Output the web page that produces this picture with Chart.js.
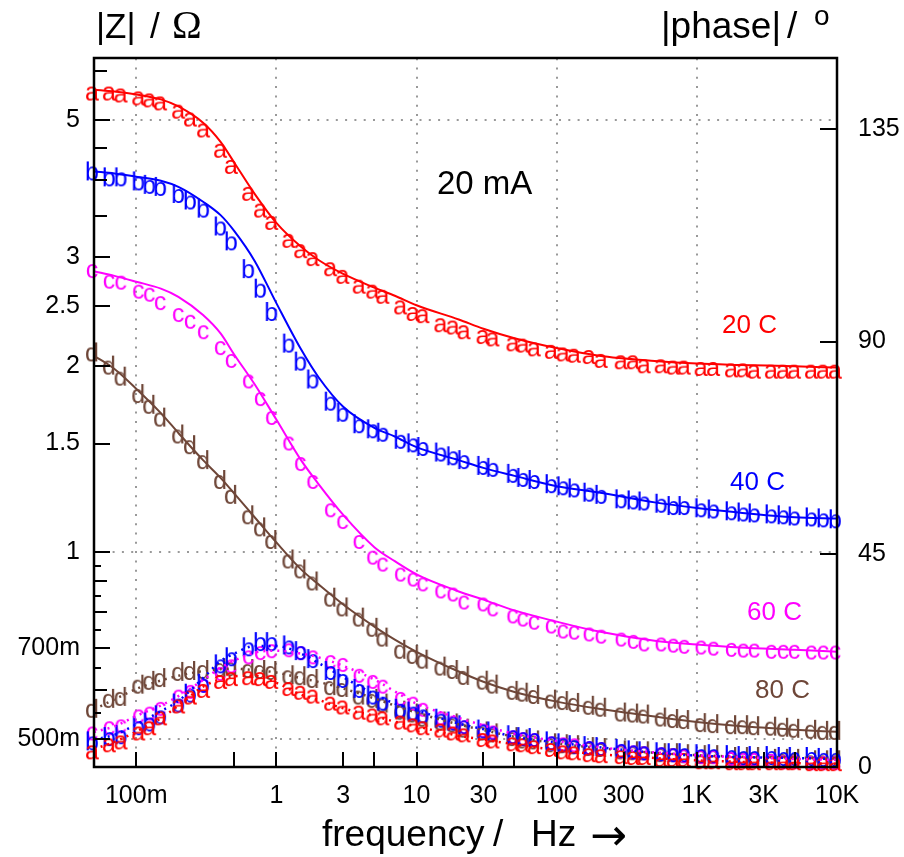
<!DOCTYPE html>
<html>
<head>
<meta charset="utf-8">
<script src="https://cdn.jsdelivr.net/npm/chart.js@4/dist/chart.umd.min.js"></script>
<style>
  html, body { margin: 0; padding: 0; background: #ffffff; }
  canvas { display: block; }
</style>
</head>
<body>
<canvas id="chart" width="904" height="857"></canvas>
<script>
// Measured frequencies (Hz), shared by all four temperature runs
const freq = [0.05, 0.066, 0.08, 0.107, 0.128, 0.153, 0.206, 0.25, 0.31, 0.41,
  0.49, 0.65, 0.79, 0.95, 1.26, 1.53, 1.87, 2.5, 3.06, 4.0,
  5.0, 5.9, 7.9, 9.7, 11.4, 15.3, 18.7, 22.4, 30.6, 36,
  50, 59, 71, 94, 114, 137, 175, 213, 296, 361,
  432, 571, 697, 834, 1100, 1350, 1810, 2200, 2640, 3490,
  4250, 5100, 6740, 8200, 10000];

// Measured |Z| in ohm
const z20 = [5.52, 5.52, 5.48, 5.42, 5.38, 5.32, 5.16, 5.01, 4.81, 4.46,
  4.20, 3.80, 3.57, 3.41, 3.19, 3.07, 2.98, 2.87, 2.79, 2.69,
  2.64, 2.59, 2.49, 2.43, 2.41, 2.33, 2.31, 2.27, 2.23, 2.21,
  2.17, 2.16, 2.13, 2.11, 2.09, 2.08, 2.07, 2.04, 2.03, 2.03,
  2.00, 2.00, 1.99, 1.99, 1.98, 1.98, 1.97, 1.97, 1.96, 1.96,
  1.96, 1.96, 1.96, 1.96, 1.96];
const z40 = [4.10, 4.01, 4.01, 3.95, 3.90, 3.87, 3.77, 3.68, 3.57, 3.34,
  3.16, 2.85, 2.65, 2.43, 2.16, 2.02, 1.89, 1.74, 1.67, 1.60,
  1.57, 1.55, 1.51, 1.49, 1.47, 1.44, 1.42, 1.40, 1.37, 1.36,
  1.33, 1.31, 1.30, 1.28, 1.27, 1.26, 1.24, 1.23, 1.21, 1.205,
  1.20, 1.19, 1.18, 1.18, 1.17, 1.165, 1.157, 1.152, 1.148, 1.144,
  1.14, 1.135, 1.131, 1.127, 1.123];
const z60 = [2.85, 2.74, 2.73, 2.64, 2.61, 2.53, 2.42, 2.36, 2.27, 2.14,
  2.04, 1.89, 1.77, 1.65, 1.50, 1.39, 1.30, 1.17, 1.12, 1.04,
  0.981, 0.956, 0.921, 0.904, 0.888, 0.865, 0.855, 0.830, 0.824, 0.809,
  0.788, 0.779, 0.770, 0.759, 0.745, 0.742, 0.737, 0.731, 0.723, 0.717,
  0.710, 0.710, 0.707, 0.704, 0.702, 0.699, 0.696, 0.694, 0.694, 0.691,
  0.691, 0.691, 0.689, 0.689, 0.689];
const z80 = [2.09, 1.99, 1.91, 1.79, 1.72, 1.64, 1.54, 1.48, 1.40, 1.30,
  1.23, 1.14, 1.09, 1.04, 0.967, 0.932, 0.891, 0.839, 0.809, 0.779,
  0.750, 0.723, 0.691, 0.678, 0.666, 0.649, 0.641, 0.627, 0.616, 0.607,
  0.593, 0.589, 0.584, 0.574, 0.571, 0.567, 0.561, 0.557, 0.547, 0.545,
  0.543, 0.537, 0.534, 0.532, 0.526, 0.524, 0.522, 0.522, 0.520, 0.519,
  0.517, 0.515, 0.513, 0.511, 0.511];

// Measured |phase| in degrees
const p20 = [3.1, 4.6, 5.2, 7.1, 8.2, 10.3, 12.8, 14.7, 16.1, 18.0,
  18.6, 18.8, 18.6, 18.0, 16.5, 15.7, 14.9, 13.4, 12.6, 11.5,
  10.9, 10.3, 9.4, 8.8, 8.2, 7.7, 7.1, 6.7, 5.7, 5.4,
  4.8, 4.6, 4.2, 3.6, 3.1, 2.9, 2.5, 2.3, 2.1, 1.9,
  1.9, 1.5, 1.5, 1.5, 1.0, 1.0, 0.8, 0.8, 0.8, 0.8,
  0.8, 0.8, 0.6, 0.6, 0.6];
const p40 = [5.0, 5.9, 6.3, 8.2, 9.0, 10.5, 13.0, 15.1, 17.2, 21.3,
  22.8, 24.9, 26.0, 26.0, 25.3, 24.1, 22.4, 19.9, 18.2, 16.1,
  14.7, 13.4, 11.9, 11.3, 10.7, 9.8, 9.2, 8.4, 7.5, 7.1,
  6.3, 5.9, 5.7, 5.0, 4.6, 4.2, 4.0, 3.8, 3.4, 3.1,
  2.9, 2.7, 2.5, 2.5, 2.3, 2.3, 2.1, 1.9, 1.9, 1.9,
  1.7, 1.7, 1.7, 1.5, 1.5];
const p60 = [7.1, 8.2, 8.6, 10.7, 11.3, 12.3, 14.9, 15.9, 17.2, 19.7,
  21.3, 23.2, 24.1, 24.5, 24.7, 24.1, 23.2, 22.2, 21.6, 19.3,
  18.0, 17.0, 14.4, 13.4, 12.1, 10.3, 9.4, 8.4, 7.7, 7.3,
  6.3, 5.9, 5.7, 5.0, 4.8, 4.6, 4.0, 3.8, 3.3, 3.1,
  2.9, 2.7, 2.5, 2.3, 2.1, 2.1, 1.7, 1.5, 1.5, 1.3,
  1.0, 1.0, 0.8, 0.8, 0.8];
const p80 = [11.9, 14.0, 14.4, 17.0, 17.8, 18.4, 19.7, 19.9, 20.1, 20.5,
  20.7, 20.3, 20.1, 19.9, 19.0, 18.8, 18.2, 16.7, 16.3, 14.7,
  14.0, 13.0, 11.5, 10.9, 10.0, 9.2, 8.8, 7.7, 7.1, 6.7,
  5.9, 5.4, 5.2, 4.6, 4.4, 4.2, 3.8, 3.6, 3.1, 2.9,
  2.9, 2.5, 2.5, 2.3, 2.1, 2.1, 1.7, 1.7, 1.7, 1.3,
  1.3, 1.3, 1.0, 1.0, 1.0];

// Model fit curves
const fitFreq = [0.05, 0.07, 0.1, 0.15, 0.2, 0.3, 0.4, 0.5, 0.7, 1,
  1.5, 2, 3, 5, 7, 10, 20, 30, 50, 100,
  200, 500, 1000, 2000, 5000, 10000];
const zFit20 = [5.60, 5.56, 5.50, 5.40, 5.26, 4.95, 4.61, 4.27, 3.80, 3.41,
  3.12, 2.97, 2.82, 2.68, 2.60, 2.51, 2.38, 2.30, 2.22, 2.14,
  2.08, 2.04, 2.02, 2.01, 2.00, 1.99];
const zFit40 = [4.13, 4.10, 4.05, 3.99, 3.90, 3.69, 3.51, 3.31, 2.96, 2.53,
  2.13, 1.92, 1.72, 1.59, 1.54, 1.48, 1.41, 1.37, 1.33, 1.28,
  1.25, 1.205, 1.18, 1.16, 1.14, 1.135];
const zFit60 = [2.85, 2.80, 2.74, 2.67, 2.59, 2.42, 2.26, 2.09, 1.87, 1.64,
  1.41, 1.29, 1.15, 1.02, 0.968, 0.922, 0.865, 0.839, 0.806, 0.773,
  0.745, 0.720, 0.710, 0.702, 0.696, 0.691];
const zFit80 = [2.08, 1.98, 1.84, 1.68, 1.56, 1.41, 1.32, 1.246, 1.14, 1.038,
  0.939, 0.888, 0.824, 0.759, 0.723, 0.691, 0.642, 0.618, 0.595, 0.574,
  0.559, 0.543, 0.532, 0.524, 0.517, 0.513];
const pFit20 = [3.8, 5.3, 7.5, 10.3, 13.0, 17.0, 18.6, 19.2, 19.3, 17.8,
  15.3, 14.2, 12.4, 10.8, 9.6, 8.6, 6.6, 5.8, 4.8, 3.6,
  2.7, 1.9, 1.4, 1.1, 0.8, 0.7];
const pFit40 = [5.8, 6.8, 9.0, 11.8, 14.0, 18.8, 22.4, 24.0, 25.6, 25.6,
  24.0, 22.0, 19.0, 15.4, 13.4, 12.0, 9.2, 8.0, 6.4, 5.2,
  4.2, 3.0, 2.4, 2.1, 1.9, 1.7];
const pFit60 = [7.4, 8.6, 10.8, 13.0, 15.0, 18.4, 21.0, 22.5, 24.2, 24.6,
  24.0, 23.2, 21.4, 18.5, 16.0, 13.4, 10.4, 8.8, 7.0, 5.5,
  4.2, 3.1, 2.5, 2.1, 1.7, 1.5];
const pFit80 = [12.2, 14.3, 16.5, 18.3, 19.3, 20.3, 20.7, 20.8, 20.5, 20.0,
  18.8, 18.0, 16.6, 14.5, 13.0, 11.5, 9.0, 7.8, 6.4, 5.0,
  4.0, 3.0, 2.5, 2.2, 2.0, 1.8];

// Axis ticks
const freqTicks = [0.1, 1, 3, 10, 30, 100, 300, 1000, 3000, 10000];
const freqTickLabels = ['100m', '1', '3', '10', '30', '100', '300', '1K', '3K', '10K'];
const freqMinorTicks = [0.5, 5, 50, 500, 5000];
const zTicks = [0.5, 0.7, 1, 1.5, 2, 2.5, 3, 5];
const zTickLabels = ['500m', '700m', '1', '1.5', '2', '2.5', '3', '5'];
const zMidTicks = [0.6, 0.8, 0.9, 3.5, 4, 4.5, 6];
const zShortTicks = [0.55, 0.65, 0.75, 0.85, 0.95];
const phaseTicks = [0, 45, 90, 135];
const freqGrid = [0.1, 1, 10, 100, 1000];
const zGrid = [0.5, 1, 5];

const runs = [
  { name: '20 C', letter: 'a', color: '#ff0000', z: z20, p: p20, zFit: zFit20, pFit: pFit20 },
  { name: '40 C', letter: 'b', color: '#0000ff', z: z40, p: p40, zFit: zFit40, pFit: pFit40 },
  { name: '60 C', letter: 'c', color: '#ff00ff', z: z60, p: p60, zFit: zFit60, pFit: pFit60 },
  { name: '80 C', letter: 'd', color: '#6e4638', z: z80, p: p80, zFit: zFit80, pFit: pFit80 }
];

const FONT = '"Liberation Sans", Arial, sans-serif';
const MARK_SIZE = 25;

// Letter glyph used as point marker; the x-height body sits on the data point
function letterSprite(ch, color) {
  const c = document.createElement('canvas');
  c.width = 44; c.height = 44;
  const g = c.getContext('2d');
  g.font = MARK_SIZE + 'px ' + FONT;
  g.fillStyle = color;
  g.textAlign = 'center';
  g.textBaseline = 'alphabetic';
  g.fillText(ch, 20, 22 + 0.26 * MARK_SIZE);
  return c;
}

const pairs = (xs, ys) => xs.map((x, i) => ({ x: x, y: ys[i] }));

const datasets = [];
runs.forEach(r => {
  datasets.push({
    label: r.name + ' |Z| fit', data: pairs(fitFreq, r.zFit), yAxisID: 'y',
    showLine: true, borderColor: r.color, borderWidth: 2, pointRadius: 0,
    cubicInterpolationMode: 'monotone', fill: false
  });
  datasets.push({
    label: r.name + ' phase fit', data: pairs(fitFreq, r.pFit), yAxisID: 'y2',
    showLine: true, borderColor: r.color, borderWidth: 2.5, borderDash: [2, 5],
    pointRadius: 0, cubicInterpolationMode: 'monotone', fill: false
  });
});
runs.forEach(r => {
  const sprite = letterSprite(r.letter, r.color);
  datasets.push({
    label: r.name + ' |Z|', data: pairs(freq, r.z), yAxisID: 'y',
    showLine: false, pointStyle: sprite, pointRadius: 4, clip: false
  });
  datasets.push({
    label: r.name + ' phase', data: pairs(freq, r.p), yAxisID: 'y2',
    showLine: false, pointStyle: sprite, pointRadius: 4, clip: false
  });
});

// Frame, inward tick marks, dotted grid and the free-standing texts
const framePlugin = {
  id: 'frame',
  beforeDatasetsDraw(chart) {
    const { ctx, chartArea: a, scales } = chart;
    ctx.save();
    ctx.strokeStyle = '#999999';
    ctx.lineWidth = 2;
    ctx.setLineDash([2, 7.3]);
    freqGrid.forEach(v => {
      const x = Math.round(scales.x.getPixelForValue(v));
      ctx.beginPath(); ctx.moveTo(x, a.bottom); ctx.lineTo(x, a.top); ctx.stroke();
    });
    zGrid.forEach(v => {
      const y = Math.round(scales.y.getPixelForValue(v));
      ctx.beginPath(); ctx.moveTo(a.left, y); ctx.lineTo(a.right, y); ctx.stroke();
    });
    ctx.restore();
  },
  afterDatasetsDraw(chart) {
    const { ctx, chartArea: a, scales } = chart;
    ctx.save();
    ctx.strokeStyle = '#000000';
    ctx.setLineDash([]);
    ctx.lineWidth = 2;
    const hTick = (v, len) => {
      const y = Math.round(scales.y.getPixelForValue(v));
      ctx.beginPath(); ctx.moveTo(a.left, y); ctx.lineTo(a.left + len, y); ctx.stroke();
    };
    zTicks.forEach(v => hTick(v, 16));
    zMidTicks.forEach(v => hTick(v, 13));
    zShortTicks.forEach(v => hTick(v, 7));
    phaseTicks.forEach(v => {
      const y = Math.round(scales.y2.getPixelForValue(v));
      ctx.beginPath(); ctx.moveTo(a.right, y); ctx.lineTo(a.right - 17, y); ctx.stroke();
    });
    freqTicks.concat(freqMinorTicks).forEach(v => {
      const x = Math.round(scales.x.getPixelForValue(v));
      ctx.beginPath(); ctx.moveTo(x, a.bottom); ctx.lineTo(x, a.bottom - 15); ctx.stroke();
    });
    ctx.lineWidth = 2.5;
    ctx.strokeRect(a.left, a.top, a.right - a.left, a.bottom - a.top);
    ctx.restore();
  },
  afterDraw(chart) {
    const ctx = chart.ctx;
    ctx.save();
    ctx.textBaseline = 'alphabetic';
    ctx.textAlign = 'left';
    ctx.fillStyle = '#000000';
    // left axis title
    ctx.font = '35px ' + FONT;
    ctx.fillText('|Z|', 96, 38);
    ctx.fillText('/', 150, 38);
    ctx.font = '40px "Liberation Serif", serif';
    ctx.fillText('\u03A9', 172, 38);
    // right axis title
    ctx.font = '37px ' + FONT;
    ctx.fillText('|phase|', 661, 38);
    ctx.fillText('/', 787, 38);
    ctx.font = '28px ' + FONT;
    ctx.fillText('o', 814, 25);
    // x axis title
    ctx.font = '37px ' + FONT;
    ctx.fillText('frequency', 322, 846);
    ctx.fillText('/', 493, 846);
    ctx.fillText('Hz', 531, 846);
    ctx.font = '44px "DejaVu Sans", sans-serif';
    ctx.fillText('\u2192', 590, 850);
    // current and temperature labels
    ctx.font = '33px ' + FONT;
    ctx.fillText('20 mA', 437, 194);
    ctx.font = '26px ' + FONT;
    const tags = [[722, 333], [730, 490], [747, 620], [755, 698]];
    runs.forEach((r, i) => {
      ctx.fillStyle = r.color;
      ctx.fillText(r.name, tags[i][0], tags[i][1]);
    });
    ctx.restore();
  }
};

const tickFont = { family: FONT, size: 25 };

new Chart(document.getElementById('chart'), {
  type: 'scatter',
  data: { datasets: datasets },
  options: {
    responsive: false,
    animation: false,
    devicePixelRatio: 1,
    layout: { padding: { top: 58, left: 0, right: 0, bottom: 0 } },
    plugins: { legend: { display: false }, tooltip: { enabled: false } },
    scales: {
      x: {
        type: 'logarithmic', position: 'bottom', min: 0.05, max: 10000,
        afterFit(s) { s.height = 90; },
        afterBuildTicks(s) { s.ticks = freqTicks.map(v => ({ value: v })); },
        ticks: {
          autoSkip: false, maxRotation: 0, padding: 14, color: '#000', font: tickFont,
          callback: (v, i) => freqTickLabels[i]
        },
        grid: { display: false, drawTicks: false },
        border: { display: false }
      },
      y: {
        type: 'logarithmic', position: 'left', min: 0.45, max: 6.3,
        afterFit(s) { s.width = 94; },
        afterBuildTicks(s) { s.ticks = zTicks.map(v => ({ value: v })); },
        ticks: {
          autoSkip: false, padding: 14, color: '#000', font: tickFont,
          callback: (v, i) => zTickLabels[i]
        },
        grid: { display: false, drawTicks: false },
        border: { display: false }
      },
      y2: {
        type: 'linear', position: 'right', min: 0, max: 150,
        afterFit(s) { s.width = 67; },
        afterBuildTicks(s) { s.ticks = phaseTicks.map(v => ({ value: v })); },
        ticks: {
          autoSkip: false, padding: 21, color: '#000', font: tickFont,
          callback: (v, i) => String(phaseTicks[i])
        },
        grid: { display: false, drawTicks: false },
        border: { display: false }
      }
    }
  },
  plugins: [framePlugin]
});
</script>
</body>
</html>
